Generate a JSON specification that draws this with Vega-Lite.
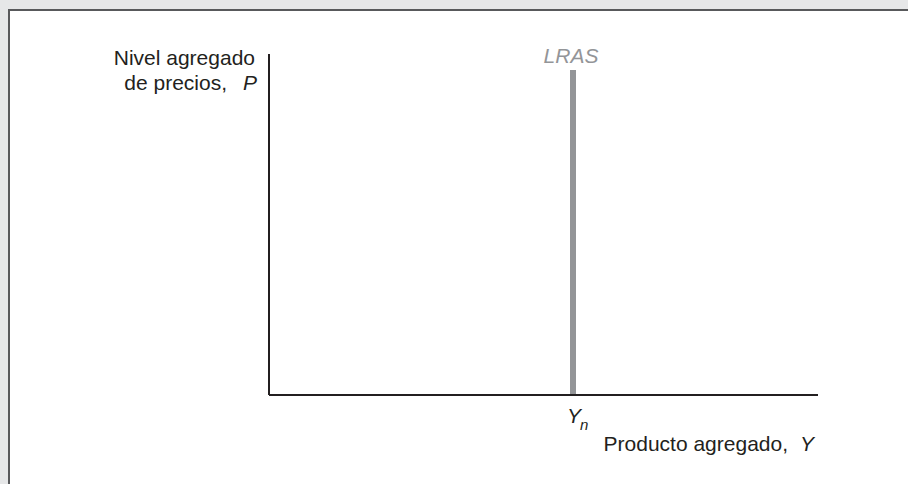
{
  "$schema": "https://vega.github.io/schema/vega-lite/v6.json",
  "width": 908,
  "height": 484,
  "autosize": {"type": "none"},
  "padding": 0,
  "background": "#e6e7e8",
  "config": {"view": {"stroke": null}, "text": {"font": "Liberation Sans", "fontSize": 21, "color": "#231f20"}},
  "encoding": {
    "x": {"field": "x", "type": "quantitative", "scale": {"domain": [-269, 639], "nice": false, "zero": false}, "axis": null},
    "y": {"field": "y", "type": "quantitative", "scale": {"domain": [-89, 395], "nice": false, "zero": false}, "axis": null}
  },
  "layer": [
    {
      "data": {"values": [{"x": -260, "x2": 720, "y": -160, "y2": 385}]},
      "mark": {"type": "rect", "fill": "#ffffff", "stroke": "#58595b", "strokeWidth": 2, "clip": true},
      "encoding": {"x2": {"field": "x2"}, "y2": {"field": "y2"}}
    },
    {
      "data": {"values": [{"curve": "LRAS", "x": 304, "y": 0, "y2": 325}]},
      "mark": {"type": "rule", "color": "#939598", "strokeWidth": 6},
      "encoding": {"y2": {"field": "y2"}}
    },
    {
      "data": {"values": [{"axis": "Y", "x": 0, "x2": 549, "y": 0, "y2": 0}, {"axis": "P", "x": 0, "x2": 0, "y": 0, "y2": 341}]},
      "mark": {"type": "rule", "color": "#231f20", "strokeWidth": 2},
      "encoding": {"x2": {"field": "x2"}, "y2": {"field": "y2"}}
    },
    {
      "data": {"values": [{"label": "LRAS", "x": 302, "y": 332}]},
      "mark": {"type": "text", "fontStyle": "italic", "color": "#939598", "align": "center", "baseline": "alphabetic"},
      "encoding": {"text": {"field": "label"}}
    },
    {
      "data": {"values": [
        {"label": "Nivel agregado", "x": -14, "y": 330},
        {"label": "de precios,", "x": -42, "y": 305},
        {"label": "Producto agregado,", "x": 519, "y": -56}
      ]},
      "mark": {"type": "text", "align": "right", "baseline": "alphabetic"},
      "encoding": {"text": {"field": "label"}}
    },
    {
      "data": {"values": [
        {"label": "P", "x": -26, "y": 305},
        {"label": "Y", "x": 531, "y": -56},
        {"label": "Y", "x": 298, "y": -28}
      ]},
      "mark": {"type": "text", "align": "left", "baseline": "alphabetic", "fontStyle": "italic"},
      "encoding": {"text": {"field": "label"}}
    },
    {
      "data": {"values": [{"label": "n", "x": 311, "y": -35}]},
      "mark": {"type": "text", "align": "left", "baseline": "alphabetic", "fontStyle": "italic", "fontSize": 15},
      "encoding": {"text": {"field": "label"}}
    }
  ]
}
